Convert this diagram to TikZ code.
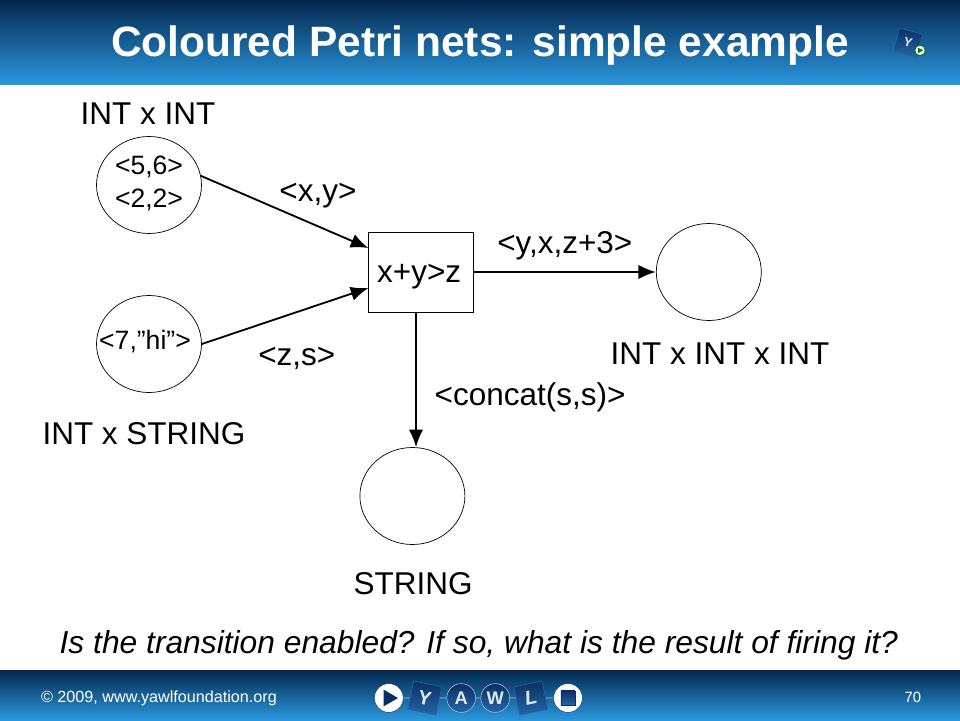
\documentclass[tikz,border=0pt]{standalone}
\usepackage{fontspec}
\setmainfont{Liberation Sans}
\usetikzlibrary{positioning,arrows.meta,calc,shapes.geometric}
\definecolor{bardark}{HTML}{04284F}
\definecolor{barmid}{HTML}{15609F}
\definecolor{barlight}{HTML}{2A98DD}
\definecolor{logodark}{HTML}{0B2F60}
\definecolor{logolight}{HTML}{2467A8}
\newcommand{\lblsize}{\fontsize{22.4}{26}\selectfont}
\newcommand{\tokensize}{\fontsize{18.9}{23.5}\selectfont}

\begin{document}
\begin{tikzpicture}[font=\lblsize,
  place/.style={draw,ellipse,line width=0.5pt,minimum width=2.625cm,minimum height=2.425cm,inner sep=0pt},
  trans/.style={draw,line width=0.5pt,minimum width=2.625cm,minimum height=2cm,inner sep=0pt,fill=white},
  ar/.style={-{Latex[length=4.4mm,width=3.6mm]},line width=1.3pt},
  lbl/.style={inner sep=0pt},
  token/.style={inner sep=0pt,align=center,font=\tokensize},
  disc/.style={circle,minimum size=0.72cm,inner sep=0pt,draw=white!60!logolight,line width=0.4pt,top color=logodark,bottom color=logolight,text=white!85!logolight,font=\bfseries\fontsize{13}{15}\selectfont},
  tile/.style={minimum size=0.72cm,inner sep=0pt,draw=logolight,line width=0.4pt,top color=logodark,bottom color=logolight,text=white!85!logolight,font=\bfseries\fontsize{14}{16}\selectfont},
  ring/.style={circle,minimum size=0.72cm,inner sep=0pt,fill=white,draw=logodark,line width=0.3pt}]
\useasboundingbox (0,0) rectangle (24,18);
% bars
\shade[top color=bardark,middle color=barmid,bottom color=barlight] (0,15.875) rectangle (24,18);
\shade[top color=bardark,middle color=barmid,bottom color=barlight] (0,0) rectangle (24,1.25);
\node[lbl,text=white,font=\bfseries\fontsize{30.2}{36}\selectfont] (title) at (12,16.85) {Coloured Petri nets: simple example};
\node[tile,minimum size=0.6cm,rotate=-15,font=\bfseries\fontsize{9}{11}\selectfont] (logo) at (22.7,16.93) {Y};
\node[circle,minimum size=0.26cm,inner sep=0pt,fill=white,draw=green!40!black,line width=0.5pt] (logoplay) at (23,16.74) {};
\fill[green!50!black] ($(logoplay)+(-0.05,0.07)$) -- ($(logoplay)+(0.08,0)$) -- ($(logoplay)+(-0.05,-0.07)$) -- cycle;
% net
\node[place] (pa) at (3.725,13.375) {};
\node[place] (pb) at (3.725,9.4) {};
\node[trans] (tr) at (10.53,11.2) {};
\node[place] (pc) at (17.72,11.2) {};
\node[place] (pd) at (10.31,5.6) {};
\node[token] (tka) at (3.725,13.42) {<5,6>\\<2,2>};
\node[token] (tkb) at (3.625,9.45) {<7,”hi”>};
\node[lbl] (guard) at (10.48,11.08) {x+y>z};
\draw[ar] (pa.10) -- ($(tr.west)+(0,0.6)$);
\draw[ar] (pb.east) -- ($(tr.west)+(0,-0.4)$);
\draw[ar] (tr.east) -- (pc.west);
\draw[ar] ($(tr.south)+(-0.13,0)$) -- ($(pd.north)+(0.09,0)$);
\node[lbl] (tpa) at (3.7,15.17) {INT x INT};
\node[lbl] (tpb) at (3.6,7.17) {INT x STRING};
\node[lbl] (tpc) at (18,9.17) {INT x INT x INT};
\node[lbl] (tpd) at (10.33,3.4) {STRING};
\node[lbl] (exa) at (7.95,13.12) {<x,y>};
\node[lbl] (exb) at (7.42,9.04) {<z,s>};
\node[lbl] (exc) at (14.12,11.85) {<y,x,z+3>};
\node[lbl] (exd) at (13.25,8.07) {<concat(s,s)>};
\node[lbl,font=\itshape\fontsize{22.6}{27}\selectfont] (quest) at (11.97,1.87) {Is the transition enabled? If so, what is the result of firing it?};
% footer
\node[lbl,text=white,anchor=west,font=\fontsize{11.5}{14}\selectfont] (copy) at (1.02,0.53) {© 2009, www.yawlfoundation.org};
\node[lbl,text=white,font=\fontsize{10.6}{13}\selectfont] (pageno) at (22.82,0.57) {70};
\node[ring] (go) at (9.72,0.55) {};
\node[tile,rotate=-12] (ly) at (10.62,0.55) {Y};
\node[disc] (la) at (11.53,0.55) {A};
\node[disc] (lw) at (12.38,0.55) {W};
\node[tile,rotate=12] (ll) at (13.27,0.55) {\itshape L};
\node[ring] (stop) at (14.2,0.55) {};
\draw[white!60!logolight,line width=0.4pt] (go) -- (ly) (ly) -- (la) (la) -- (lw) (lw) -- (ll) (ll) -- (stop);
\fill[logodark] ($(go)+(-0.13,0.21)$) -- ($(go)+(0.23,0)$) -- ($(go)+(-0.13,-0.21)$) -- cycle;
\node[minimum size=0.36cm,inner sep=0pt,top color=logodark,bottom color=logolight,draw=logodark,line width=0.3pt] (stopbox) at (stop) {};
\end{tikzpicture}
\end{document}
